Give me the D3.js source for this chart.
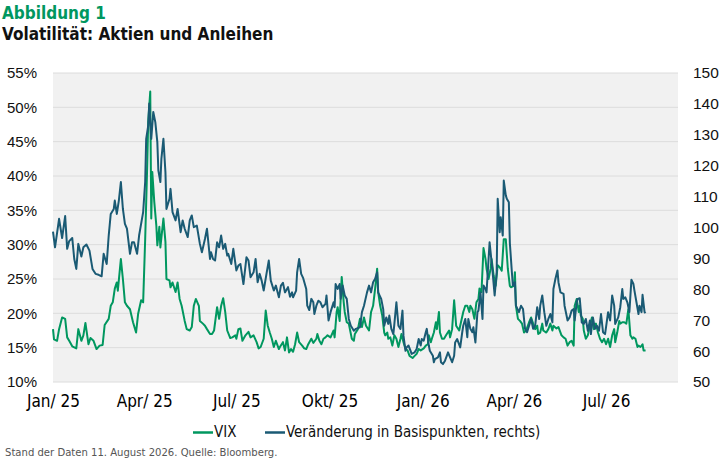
<!DOCTYPE html>
<html lang="de">
<head>
<meta charset="utf-8">
<title>Volatilität: Aktien und Anleihen</title>
<script src="https://cdn.jsdelivr.net/npm/d3@7"></script>
<style>
  html, body { margin: 0; padding: 0; background: #ffffff; }
  svg { display: block; }
  .narrow { font-family: "Liberation Sans Narrow", "DejaVu Sans Condensed", "Roboto Condensed", "Open Sans", sans-serif; font-stretch: condensed; }
</style>
</head>
<body>
<svg id="chart"></svg>
<script>
// Tick labels and axis values
const xTickDates = ['2025-01-01', '2025-04-01', '2025-07-01', '2025-10-01', '2026-01-01', '2026-04-01', '2026-07-01'];
const xTickLabels = ['Jan/ 25', 'Apr/ 25', 'Jul/ 25', 'Okt/ 25', 'Jan/ 26', 'Apr/ 26', 'Jul/ 26'];
const leftTicks = [10, 15, 20, 25, 30, 35, 40, 45, 50, 55];
const rightTicks = [50, 60, 70, 80, 90, 100, 110, 120, 130, 140, 150];

// Series names
const seriesNames = ['VIX', 'Veränderung in Basispunkten, rechts)'];

// VIX in % (left axis)
const vixData = [
  ['2025-01-01', 17.7], ['2025-01-02', 16.2], ['2025-01-05', 16.0], ['2025-01-07', 17.7], ['2025-01-10', 19.4],
  ['2025-01-13', 19.2], ['2025-01-15', 16.5], ['2025-01-17', 16.0], ['2025-01-20', 15.2], ['2025-01-24', 14.9],
  ['2025-01-26', 17.7], ['2025-01-29', 16.0], ['2025-01-31', 16.8], ['2025-02-02', 18.6], ['2025-02-05', 15.5],
  ['2025-02-07', 16.4], ['2025-02-10', 16.0], ['2025-02-13', 14.8], ['2025-02-16', 15.3], ['2025-02-19', 15.4],
  ['2025-02-21', 18.3], ['2025-02-25', 19.2], ['2025-02-27', 21.1], ['2025-03-01', 21.6], ['2025-03-03', 23.6],
  ['2025-03-05', 24.5], ['2025-03-06', 23.3], ['2025-03-09', 27.9], ['2025-03-11', 25.0], ['2025-03-13', 21.6],
  ['2025-03-15', 21.1], ['2025-03-18', 20.6], ['2025-03-21', 18.7], ['2025-03-24', 17.2], ['2025-03-26', 19.9],
  ['2025-03-29', 21.9], ['2025-03-31', 21.6], ['2025-04-02', 30.8], ['2025-04-04', 41.5], ['2025-04-05', 47.9],
  ['2025-04-07', 52.3], ['2025-04-08', 33.8], ['2025-04-09', 40.6], ['2025-04-11', 36.2], ['2025-04-13', 32.8],
  ['2025-04-14', 29.9], ['2025-04-16', 32.6], ['2025-04-17', 29.6], ['2025-04-20', 33.8], ['2025-04-22', 30.4],
  ['2025-04-23', 25.0], ['2025-04-26', 24.8], ['2025-04-27', 23.8], ['2025-04-29', 24.5], ['2025-05-02', 23.1],
  ['2025-05-04', 24.5], ['2025-05-06', 22.1], ['2025-05-08', 21.1], ['2025-05-11', 18.9], ['2025-05-13', 17.7],
  ['2025-05-16', 17.5], ['2025-05-18', 18.0], ['2025-05-20', 21.1], ['2025-05-22', 22.1], ['2025-05-25', 21.1],
  ['2025-05-26', 18.9], ['2025-05-29', 18.5], ['2025-05-31', 18.2], ['2025-06-02', 17.7], ['2025-06-05', 17.0],
  ['2025-06-07', 17.0], ['2025-06-09', 17.5], ['2025-06-12', 20.9], ['2025-06-14', 19.2], ['2025-06-16', 21.1],
  ['2025-06-18', 22.2], ['2025-06-20', 20.2], ['2025-06-22', 17.5], ['2025-06-25', 16.4], ['2025-06-27', 16.5],
  ['2025-06-30', 16.8], ['2025-07-01', 16.3], ['2025-07-03', 17.7], ['2025-07-05', 17.8], ['2025-07-07', 16.0],
  ['2025-07-10', 16.8], ['2025-07-13', 17.3], ['2025-07-15', 16.5], ['2025-07-18', 16.8], ['2025-07-21', 15.8],
  ['2025-07-23', 14.9], ['2025-07-25', 15.1], ['2025-07-28', 16.3], ['2025-07-30', 20.4], ['2025-08-01', 18.2],
  ['2025-08-03', 17.2], ['2025-08-05', 16.3], ['2025-08-07', 15.1], ['2025-08-09', 16.0], ['2025-08-12', 14.8],
  ['2025-08-13', 15.1], ['2025-08-16', 15.8], ['2025-08-18', 14.6], ['2025-08-20', 16.5], ['2025-08-22', 14.3],
  ['2025-08-24', 14.8], ['2025-08-26', 14.4], ['2025-08-28', 15.5], ['2025-08-30', 17.2], ['2025-09-01', 15.8],
  ['2025-09-04', 15.3], ['2025-09-06', 14.9], ['2025-09-08', 14.8], ['2025-09-10', 15.5], ['2025-09-13', 16.3],
  ['2025-09-15', 15.7], ['2025-09-18', 16.3], ['2025-09-19', 17.0], ['2025-09-21', 16.0], ['2025-09-23', 15.5],
  ['2025-09-25', 16.3], ['2025-09-27', 16.5], ['2025-09-29', 16.8], ['2025-10-02', 16.5], ['2025-10-05', 17.5],
  ['2025-10-06', 16.5], ['2025-10-08', 20.2], ['2025-10-09', 20.9], ['2025-10-11', 18.9], ['2025-10-13', 25.3],
  ['2025-10-15', 21.6], ['2025-10-16', 20.2], ['2025-10-18', 18.7], ['2025-10-20', 18.5], ['2025-10-23', 16.3],
  ['2025-10-25', 16.0], ['2025-10-26', 17.0], ['2025-10-29', 17.7], ['2025-10-31', 19.2], ['2025-11-02', 18.0],
  ['2025-11-04', 19.4], ['2025-11-06', 18.2], ['2025-11-09', 17.5], ['2025-11-11', 20.2], ['2025-11-13', 21.1],
  ['2025-11-15', 23.6], ['2025-11-17', 26.5], ['2025-11-18', 23.1], ['2025-11-20', 21.1], ['2025-11-22', 19.7],
  ['2025-11-24', 17.2], ['2025-11-25', 16.8], ['2025-11-27', 17.2], ['2025-11-28', 16.3], ['2025-11-30', 16.5],
  ['2025-12-02', 15.3], ['2025-12-04', 16.8], ['2025-12-06', 16.3], ['2025-12-08', 15.1], ['2025-12-10', 16.3],
  ['2025-12-11', 17.0], ['2025-12-13', 15.8], ['2025-12-15', 14.8], ['2025-12-17', 14.6], ['2025-12-19', 13.8],
  ['2025-12-22', 13.5], ['2025-12-24', 13.8], ['2025-12-26', 14.1], ['2025-12-28', 14.8], ['2025-12-30', 14.6],
  ['2026-01-02', 14.9], ['2026-01-04', 15.3], ['2026-01-06', 15.5], ['2026-01-07', 16.8], ['2026-01-09', 15.8],
  ['2026-01-10', 16.3], ['2026-01-12', 17.2], ['2026-01-14', 18.7], ['2026-01-15', 17.7], ['2026-01-17', 20.2],
  ['2026-01-18', 17.2], ['2026-01-20', 16.3], ['2026-01-22', 16.3], ['2026-01-24', 16.8], ['2026-01-27', 17.5],
  ['2026-01-28', 16.5], ['2026-01-30', 17.7], ['2026-02-01', 21.9], ['2026-02-03', 18.2], ['2026-02-06', 17.5],
  ['2026-02-07', 18.2], ['2026-02-10', 20.2], ['2026-02-12', 21.1], ['2026-02-14', 21.1], ['2026-02-16', 20.2],
  ['2026-02-17', 21.1], ['2026-02-19', 20.6], ['2026-02-21', 19.2], ['2026-02-23', 21.6], ['2026-02-25', 22.1],
  ['2026-02-26', 23.6], ['2026-02-28', 23.1], ['2026-03-02', 29.5], ['2026-03-04', 27.9], ['2026-03-05', 26.5],
  ['2026-03-07', 25.0], ['2026-03-09', 26.5], ['2026-03-10', 27.9], ['2026-03-12', 25.5], ['2026-03-14', 24.0],
  ['2026-03-16', 27.0], ['2026-03-18', 26.7], ['2026-03-20', 26.2], ['2026-03-22', 30.8], ['2026-03-24', 30.8],
  ['2026-03-26', 26.5], ['2026-03-28', 24.0], ['2026-03-29', 23.8], ['2026-04-01', 24.0], ['2026-04-02', 26.0],
  ['2026-04-03', 21.1], ['2026-04-05', 19.2], ['2026-04-07', 18.9], ['2026-04-09', 18.5], ['2026-04-11', 17.2],
  ['2026-04-13', 17.5], ['2026-04-16', 18.7], ['2026-04-18', 19.4], ['2026-04-20', 18.5], ['2026-04-22', 17.7],
  ['2026-04-24', 18.2], ['2026-04-25', 17.0], ['2026-04-27', 17.2], ['2026-04-29', 18.5], ['2026-04-30', 17.5],
  ['2026-05-03', 17.2], ['2026-05-05', 17.7], ['2026-05-07', 18.5], ['2026-05-09', 17.5], ['2026-05-10', 18.2],
  ['2026-05-13', 17.8], ['2026-05-15', 18.0], ['2026-05-18', 16.8], ['2026-05-20', 16.5], ['2026-05-22', 16.3],
  ['2026-05-24', 15.3], ['2026-05-26', 15.8], ['2026-05-28', 16.0], ['2026-05-30', 15.3], ['2026-05-31', 21.1],
  ['2026-06-02', 22.1], ['2026-06-04', 20.2], ['2026-06-05', 21.1], ['2026-06-06', 19.7], ['2026-06-08', 19.2],
  ['2026-06-09', 17.5], ['2026-06-11', 16.3], ['2026-06-13', 16.8], ['2026-06-15', 18.2], ['2026-06-17', 19.4],
  ['2026-06-19', 17.7], ['2026-06-21', 18.5], ['2026-06-23', 17.2], ['2026-06-25', 16.3], ['2026-06-27', 15.8],
  ['2026-06-29', 16.3], ['2026-07-01', 15.5], ['2026-07-03', 16.3], ['2026-07-05', 15.1], ['2026-07-07', 16.8],
  ['2026-07-09', 17.7], ['2026-07-10', 15.8], ['2026-07-12', 17.2], ['2026-07-14', 18.9], ['2026-07-15', 18.5],
  ['2026-07-17', 18.7], ['2026-07-19', 18.7], ['2026-07-21', 18.5], ['2026-07-23', 20.6], ['2026-07-25', 16.8],
  ['2026-07-27', 16.3], ['2026-07-28', 16.5], ['2026-07-30', 16.3], ['2026-08-01', 15.1], ['2026-08-02', 15.3],
  ['2026-08-04', 15.1], ['2026-08-06', 15.5], ['2026-08-07', 14.6], ['2026-08-09', 14.6]
];

// Change in basis points (right axis)
const bpsData = [
  ['2025-01-01', 98.7], ['2025-01-03', 93.6], ['2025-01-07', 102.8], ['2025-01-10', 96.6], ['2025-01-13', 103.7],
  ['2025-01-15', 93.1], ['2025-01-17', 95.6], ['2025-01-20', 96.6], ['2025-01-22', 89.8], ['2025-01-24', 86.6],
  ['2025-01-26', 94.7], ['2025-01-29', 90.6], ['2025-01-31', 93.6], ['2025-02-03', 94.5], ['2025-02-06', 92.5],
  ['2025-02-09', 86.6], ['2025-02-12', 85.0], ['2025-02-15', 84.7], ['2025-02-18', 84.2], ['2025-02-20', 91.5],
  ['2025-02-23', 88.2], ['2025-02-25', 97.4], ['2025-02-27', 104.4], ['2025-03-02', 106.0], ['2025-03-03', 108.7],
  ['2025-03-05', 104.4], ['2025-03-07', 108.7], ['2025-03-09', 114.7], ['2025-03-11', 106.0], ['2025-03-13', 101.2],
  ['2025-03-15', 99.6], ['2025-03-18', 91.5], ['2025-03-20', 95.2], ['2025-03-22', 95.2], ['2025-03-25', 91.5],
  ['2025-03-27', 97.4], ['2025-03-31', 105.0], ['2025-04-02', 114.7], ['2025-04-03', 128.7], ['2025-04-05', 133.0],
  ['2025-04-06', 140.1], ['2025-04-08', 128.7], ['2025-04-10', 137.4], ['2025-04-12', 134.1], ['2025-04-14', 127.6],
  ['2025-04-15', 118.5], ['2025-04-17', 114.7], ['2025-04-18', 122.2], ['2025-04-20', 128.7], ['2025-04-22', 117.9],
  ['2025-04-23', 106.0], ['2025-04-26', 109.3], ['2025-04-27', 112.5], ['2025-04-29', 105.0], ['2025-05-02', 102.3],
  ['2025-05-04', 106.0], ['2025-05-07', 98.5], ['2025-05-09', 102.3], ['2025-05-11', 99.6], ['2025-05-14', 96.9],
  ['2025-05-16', 102.3], ['2025-05-18', 103.9], ['2025-05-20', 100.1], ['2025-05-23', 100.6], ['2025-05-26', 94.7],
  ['2025-05-28', 92.0], ['2025-05-31', 96.3], ['2025-06-02', 99.6], ['2025-06-05', 89.8], ['2025-06-06', 92.0],
  ['2025-06-08', 89.8], ['2025-06-10', 89.3], ['2025-06-12', 95.2], ['2025-06-14', 93.6], ['2025-06-16', 97.4],
  ['2025-06-18', 93.1], ['2025-06-20', 94.7], ['2025-06-22', 90.9], ['2025-06-23', 91.5], ['2025-06-26', 88.2],
  ['2025-06-28', 93.1], ['2025-07-01', 86.1], ['2025-07-03', 87.7], ['2025-07-05', 88.2], ['2025-07-08', 81.7],
  ['2025-07-11', 90.4], ['2025-07-13', 89.3], ['2025-07-15', 83.9], ['2025-07-18', 85.5], ['2025-07-20', 89.8],
  ['2025-07-22', 82.3], ['2025-07-24', 85.0], ['2025-07-26', 82.8], ['2025-07-28', 79.6], ['2025-07-31', 85.5],
  ['2025-08-02', 89.3], ['2025-08-04', 82.8], ['2025-08-07', 79.6], ['2025-08-09', 81.2], ['2025-08-12', 77.4],
  ['2025-08-14', 81.2], ['2025-08-16', 82.1], ['2025-08-18', 79.0], ['2025-08-21', 80.7], ['2025-08-23', 77.6],
  ['2025-08-25', 79.0], ['2025-08-26', 77.4], ['2025-08-29', 79.6], ['2025-08-30', 85.5], ['2025-09-01', 89.8],
  ['2025-09-03', 85.0], ['2025-09-05', 83.6], ['2025-09-08', 80.1], ['2025-09-09', 74.7], ['2025-09-11', 73.3],
  ['2025-09-13', 76.9], ['2025-09-15', 75.8], ['2025-09-16', 72.0], ['2025-09-18', 74.7], ['2025-09-20', 76.3],
  ['2025-09-22', 75.8], ['2025-09-24', 74.2], ['2025-09-27', 75.3], ['2025-09-28', 78.0], ['2025-09-30', 69.9],
  ['2025-10-02', 72.6], ['2025-10-05', 75.8], ['2025-10-06', 74.2], ['2025-10-07', 81.7], ['2025-10-09', 80.1],
  ['2025-10-11', 81.7], ['2025-10-12', 76.9], ['2025-10-14', 81.2], ['2025-10-16', 78.0], ['2025-10-18', 76.9],
  ['2025-10-20', 70.4], ['2025-10-22', 68.2], ['2025-10-25', 66.6], ['2025-10-27', 67.2], ['2025-10-31', 67.7],
  ['2025-11-02', 72.6], ['2025-11-04', 74.7], ['2025-11-07', 79.0], ['2025-11-09', 81.2], ['2025-11-11', 79.0],
  ['2025-11-13', 82.3], ['2025-11-15', 83.4], ['2025-11-17', 85.5], ['2025-11-18', 79.0], ['2025-11-21', 76.9],
  ['2025-11-23', 73.6], ['2025-11-24', 68.2], ['2025-11-26', 70.9], ['2025-11-28', 68.8], ['2025-11-29', 71.5],
  ['2025-12-01', 67.2], ['2025-12-03', 65.5], ['2025-12-04', 68.8], ['2025-12-06', 75.8], ['2025-12-08', 68.2],
  ['2025-12-10', 67.2], ['2025-12-12', 73.1], ['2025-12-13', 65.0], ['2025-12-15', 60.1], ['2025-12-16', 61.2],
  ['2025-12-18', 61.8], ['2025-12-20', 60.1], ['2025-12-21', 59.1], ['2025-12-24', 59.6], ['2025-12-26', 60.7],
  ['2025-12-28', 63.9], ['2025-12-30', 61.8], ['2025-12-31', 63.9], ['2026-01-02', 63.4], ['2026-01-04', 66.1],
  ['2026-01-05', 67.2], ['2026-01-07', 61.8], ['2026-01-08', 60.1], ['2026-01-11', 58.5], ['2026-01-12', 56.4],
  ['2026-01-13', 57.4], ['2026-01-16', 58.0], ['2026-01-18', 59.6], ['2026-01-19', 56.4], ['2026-01-21', 55.8],
  ['2026-01-23', 56.9], ['2026-01-26', 59.6], ['2026-01-28', 58.0], ['2026-01-30', 56.4], ['2026-02-01', 58.5],
  ['2026-02-02', 62.8], ['2026-02-04', 63.9], ['2026-02-07', 61.2], ['2026-02-09', 66.1], ['2026-02-10', 68.2],
  ['2026-02-12', 70.4], ['2026-02-14', 64.5], ['2026-02-15', 70.4], ['2026-02-17', 67.2], ['2026-02-19', 66.1],
  ['2026-02-20', 67.7], ['2026-02-22', 62.8], ['2026-02-24', 72.6], ['2026-02-25', 73.1], ['2026-02-27', 79.0],
  ['2026-03-01', 70.4], ['2026-03-02', 81.2], ['2026-03-04', 80.1], ['2026-03-05', 79.0], ['2026-03-08', 95.2],
  ['2026-03-10', 88.8], ['2026-03-11', 85.5], ['2026-03-13', 78.0], ['2026-03-15', 85.5], ['2026-03-16', 109.3],
  ['2026-03-18', 98.5], ['2026-03-19', 103.3], ['2026-03-21', 97.4], ['2026-03-22', 115.2], ['2026-03-24', 110.4],
  ['2026-03-25', 109.3], ['2026-03-27', 108.2], ['2026-03-28', 95.0], ['2026-03-30', 85.5], ['2026-03-31', 81.2],
  ['2026-04-02', 82.3], ['2026-04-03', 74.7], ['2026-04-06', 72.6], ['2026-04-08', 74.7], ['2026-04-10', 73.6],
  ['2026-04-12', 67.2], ['2026-04-14', 66.1], ['2026-04-16', 68.2], ['2026-04-18', 70.4], ['2026-04-20', 67.2],
  ['2026-04-22', 68.2], ['2026-04-24', 74.2], ['2026-04-26', 70.4], ['2026-04-27', 74.7], ['2026-04-29', 78.0],
  ['2026-05-01', 72.6], ['2026-05-03', 68.2], ['2026-05-05', 70.4], ['2026-05-07', 72.0], ['2026-05-09', 69.3],
  ['2026-05-10', 80.1], ['2026-05-12', 83.4], ['2026-05-14', 86.1], ['2026-05-15', 82.3], ['2026-05-17', 79.0],
  ['2026-05-20', 78.5], ['2026-05-21', 74.7], ['2026-05-24', 69.9], ['2026-05-26', 70.9], ['2026-05-28', 73.1],
  ['2026-05-30', 73.6], ['2026-05-31', 69.9], ['2026-06-02', 75.8], ['2026-06-03', 76.9], ['2026-06-05', 77.1],
  ['2026-06-07', 69.3], ['2026-06-09', 68.8], ['2026-06-11', 70.4], ['2026-06-13', 66.6], ['2026-06-15', 69.9],
  ['2026-06-16', 65.5], ['2026-06-18', 70.9], ['2026-06-20', 67.2], ['2026-06-22', 68.2], ['2026-06-24', 66.6],
  ['2026-06-26', 72.0], ['2026-06-28', 66.1], ['2026-06-30', 65.5], ['2026-07-03', 72.6], ['2026-07-05', 69.9],
  ['2026-07-07', 78.0], ['2026-07-09', 74.7], ['2026-07-10', 68.8], ['2026-07-13', 70.9], ['2026-07-15', 74.2],
  ['2026-07-17', 80.1], ['2026-07-18', 76.9], ['2026-07-20', 77.4], ['2026-07-22', 75.8], ['2026-07-24', 72.6],
  ['2026-07-26', 83.1], ['2026-07-28', 81.7], ['2026-07-29', 79.6], ['2026-07-31', 75.8], ['2026-08-02', 72.0],
  ['2026-08-03', 74.7], ['2026-08-05', 72.6], ['2026-08-06', 78.2], ['2026-08-08', 72.6], ['2026-08-09', 72.3]
];

// Colours
const green = '#00975f';
const blue = '#1a5a74';

// Dimensions
const width = 725;
const height = 460;
const margin = { top: 73, right: 47, bottom: 78, left: 53 };
const innerWidth = width - margin.left - margin.right;
const innerHeight = height - margin.top - margin.bottom;

const parseDate = d3.utcParse('%Y-%m-%d');

// Scales
const xScale = d3
  .scaleUtc()
  .domain([parseDate('2025-01-01'), parseDate('2026-09-10')])
  .range([0, innerWidth]);

const yLeft = d3.scaleLinear().domain([10, 55]).range([innerHeight, 0]);
const yRight = d3.scaleLinear().domain([50, 150]).range([innerHeight, 0]);

const svg = d3
  .select('#chart')
  .attr('width', width)
  .attr('height', height)
  .attr('viewBox', `0 0 ${width} ${height}`);

// Titles
svg
  .append('text')
  .attr('class', 'narrow')
  .attr('x', 2)
  .attr('y', 19)
  .attr('fill', green)
  .attr('font-size', 17)
  .attr('font-weight', 'bold')
  .text('Abbildung 1');

svg
  .append('text')
  .attr('class', 'narrow')
  .attr('x', 2)
  .attr('y', 40)
  .attr('fill', '#111111')
  .attr('font-size', 17)
  .attr('font-weight', 'bold')
  .text('Volatilität: Aktien und Anleihen');

const g = svg.append('g').attr('transform', `translate(${margin.left},${margin.top})`);

// Plot background
g.append('rect')
  .attr('width', innerWidth)
  .attr('height', innerHeight)
  .attr('fill', '#f1f1f1');

// Gridlines from the left axis
g.append('g')
  .selectAll('line')
  .data(leftTicks)
  .join('line')
  .attr('x1', 0)
  .attr('x2', innerWidth)
  .attr('y1', (d) => yLeft(d))
  .attr('y2', (d) => yLeft(d))
  .attr('stroke', '#dcdcdc')
  .attr('stroke-width', 1);

// Left axis
const leftAxis = g
  .append('g')
  .call(d3.axisLeft(yLeft).tickValues(leftTicks).tickSize(0).tickPadding(16).tickFormat((d) => `${d}%`));
leftAxis.select('.domain').remove();
leftAxis
  .selectAll('text')
  .attr('font-family', 'Liberation Sans, Arial, sans-serif')
  .attr('font-size', 15)
  .attr('fill', '#111111');

// Right axis
const rightAxis = g
  .append('g')
  .attr('transform', `translate(${innerWidth},0)`)
  .call(d3.axisRight(yRight).tickValues(rightTicks).tickSize(0).tickPadding(15));
rightAxis.select('.domain').remove();
rightAxis
  .selectAll('text')
  .attr('font-family', 'Liberation Sans, Arial, sans-serif')
  .attr('font-size', 15.5)
  .attr('fill', '#111111');

// Bottom axis
const xAxis = g
  .append('g')
  .attr('transform', `translate(0,${innerHeight})`)
  .call(
    d3
      .axisBottom(xScale)
      .tickValues(xTickDates.map(parseDate))
      .tickSize(0)
      .tickPadding(13)
      .tickFormat((d, i) => xTickLabels[i])
  );
xAxis.select('.domain').remove();
xAxis
  .selectAll('text')
  .attr('class', 'narrow')
  .attr('font-family', null)
  .attr('font-size', 17)
  .attr('fill', '#000000');

// Lines
const lineLeft = d3
  .line()
  .x((d) => xScale(parseDate(d[0])))
  .y((d) => yLeft(d[1]));

const lineRight = d3
  .line()
  .x((d) => xScale(parseDate(d[0])))
  .y((d) => yRight(d[1]));

g.append('path')
  .datum(vixData)
  .attr('fill', 'none')
  .attr('stroke', green)
  .attr('stroke-width', 2)
  .attr('stroke-linejoin', 'round')
  .attr('d', lineLeft);

g.append('path')
  .datum(bpsData)
  .attr('fill', 'none')
  .attr('stroke', blue)
  .attr('stroke-width', 2)
  .attr('stroke-linejoin', 'round')
  .attr('d', lineRight);

// Legend
const legend = svg.append('g').attr('transform', 'translate(193,432)');
const legendItems = [
  { name: seriesNames[0], color: green, x: 0 },
  { name: seriesNames[1], color: blue, x: 72 }
];
const item = legend
  .selectAll('g')
  .data(legendItems)
  .join('g')
  .attr('transform', (d) => `translate(${d.x},0)`);
item
  .append('line')
  .attr('x1', 0)
  .attr('x2', 20)
  .attr('y1', 0.5)
  .attr('y2', 0.5)
  .attr('stroke', (d) => d.color)
  .attr('stroke-width', 2.5);
item
  .append('text')
  .attr('class', 'narrow')
  .attr('x', 21)
  .attr('y', 4.5)
  .attr('font-size', 15)
  .attr('fill', '#111111')
  .text((d) => d.name);

// Footnote
svg
  .append('text')
  .attr('class', 'narrow')
  .attr('x', 5)
  .attr('y', 456)
  .attr('font-size', 11.2)
  .attr('fill', '#555555')
  .text('Stand der Daten 11. August 2026. Quelle: Bloomberg.');
</script>
</body>
</html>
